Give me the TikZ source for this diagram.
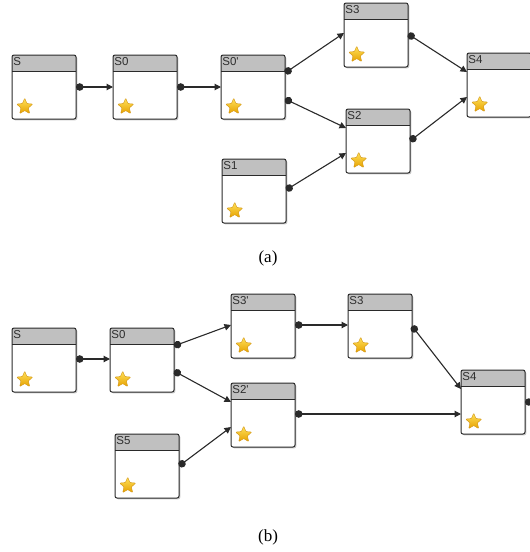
\documentclass[tikz,border=0pt]{standalone}
\usepackage{fontspec}
\setmainfont{Liberation Serif}
\setsansfont{Liberation Sans}
\usetikzlibrary{shapes.geometric,shadows,arrows.meta}

\definecolor{linec}{HTML}{2A2A2A}
\definecolor{headgray}{HTML}{C0C0C0}
\definecolor{labelc}{HTML}{2E2E2E}
\definecolor{starhi}{HTML}{FFE15A}
\definecolor{starlo}{HTML}{E6A100}
\definecolor{staredge}{HTML}{D19312}

\tikzset{
  statebody/.style={rectangle, anchor=north west, minimum width=64pt, minimum height=64pt,
    inner sep=0pt, outer sep=0pt, fill=white, rounded corners=2pt,
    drop shadow={shadow xshift=1.3pt, shadow yshift=-1.3pt, opacity=0.22, fill=black}},
  boxline/.style={draw=linec, line width=1pt, rounded corners=2pt},
  headtext/.style={anchor=north west, inner sep=0pt, text=labelc,
    font=\sffamily\fontsize{11.5}{11.5}\selectfont},
  starmark/.style={star, star points=5, star point ratio=2.2, minimum size=17pt,
    inner sep=0pt, rounded corners=0.8pt, top color=starhi, bottom color=starlo,
    draw=staredge, line width=0.4pt},
  conn/.style={draw=linec, line width=1.1pt,
    {Circle[length=7.5pt]}-{Triangle[length=6.5pt,width=6.5pt]}},
  enddot/.style={circle, fill=linec, minimum size=7.5pt, inner sep=0pt},
  caption/.style={font=\fontsize{17}{17}\selectfont, inner sep=0pt}
}

% one state box: name, x, y (top-left corner), label
\newcommand\statebox[4]{%
  \node[statebody] (#1) at (#2,#3) {};
  \fill[headgray] ([yshift=-16.5pt]#1.north west) [rounded corners=2pt]
    -- (#1.north west) -- (#1.north east) [sharp corners]
    -- ([yshift=-16.5pt]#1.north east) -- cycle;
  \draw[linec, line width=1pt] ([yshift=-16.5pt]#1.north west) -- ([yshift=-16.5pt]#1.north east);
  \draw[boxline] (#1.south west) rectangle (#1.north east);
  \node[headtext] (#1-t) at ([shift={(1.2pt,-2.3pt)}]#1.north west) {#4};
  \node[starmark] (#1-s) at ([shift={(12.7pt,12.3pt)}]#1.south west) {};
}
\newcommand\pr{\textquotesingle}

\begin{document}
\begin{tikzpicture}[x=1pt, y=-1pt]
\useasboundingbox (0,0) rectangle (530,552);

% ---------- (a) ----------
\statebox{aS}{12}{55}{S}
\statebox{aSz}{113}{55}{S0}
\statebox{aSzp}{221}{55}{S0\pr}
\statebox{aSc}{344}{3}{S3}
\statebox{aSd}{467}{53}{S4}
\statebox{aSb}{346}{109}{S2}
\statebox{aSa}{222}{159}{S1}

\draw[conn] ([yshift=-32pt]aS.north east) -- ([yshift=-32pt]aSz.north west);
\draw[conn] ([yshift=-32pt]aSz.north east) -- ([yshift=-32pt]aSzp.north west);
\draw[conn] ([yshift=-18pt]aSzp.north east) -- ([yshift=-30pt]aSc.north west);
\draw[conn] ([yshift=-44pt]aSzp.north east) -- ([yshift=-19pt]aSb.north west);
\draw[conn] ([yshift=-31pt]aSa.north east) -- ([yshift=-44pt]aSb.north west);
\draw[conn] ([yshift=-31pt]aSc.north east) -- ([yshift=-19pt]aSd.north west);
\draw[conn] ([yshift=-32pt]aSb.north east) -- ([yshift=-44pt]aSd.north west);

\node[caption] (capa) at (268,258) {(a)};

% ---------- (b) ----------
\statebox{bS}{12}{328}{S}
\statebox{bSz}{110}{328}{S0}
\statebox{bScp}{231}{294}{S3\pr}
\statebox{bSbp}{231}{383}{S2\pr}
\statebox{bSe}{115}{434}{S5}
\statebox{bSc}{348}{294}{S3}
\statebox{bSd}{461}{370}{S4}

\draw[conn] ([yshift=-31pt]bS.north east) -- ([yshift=-31pt]bSz.north west);
\draw[conn] ([yshift=-18pt]bSz.north east) -- ([yshift=-31pt]bScp.north west);
\draw[conn] ([yshift=-43pt]bSz.north east) -- ([yshift=-19pt]bSbp.north west);
\draw[conn] ([yshift=-32pt]bSe.north east) -- ([yshift=-44pt]bSbp.north west);
\draw[conn] ([yshift=-31pt]bScp.north east) -- ([yshift=-31pt]bSc.north west);
\draw[conn] ([yshift=-32pt]bSc.north east) -- ([yshift=-19pt]bSd.north west);
\draw[conn] ([yshift=-31pt]bSbp.north east) -- ([yshift=-44pt]bSd.north west);
\node[enddot] (bSd-out) at ([shift={(3.7pt,-32pt)}]bSd.north east) {};

\node[caption] (capb) at (268,537) {(b)};
\end{tikzpicture}
\end{document}
